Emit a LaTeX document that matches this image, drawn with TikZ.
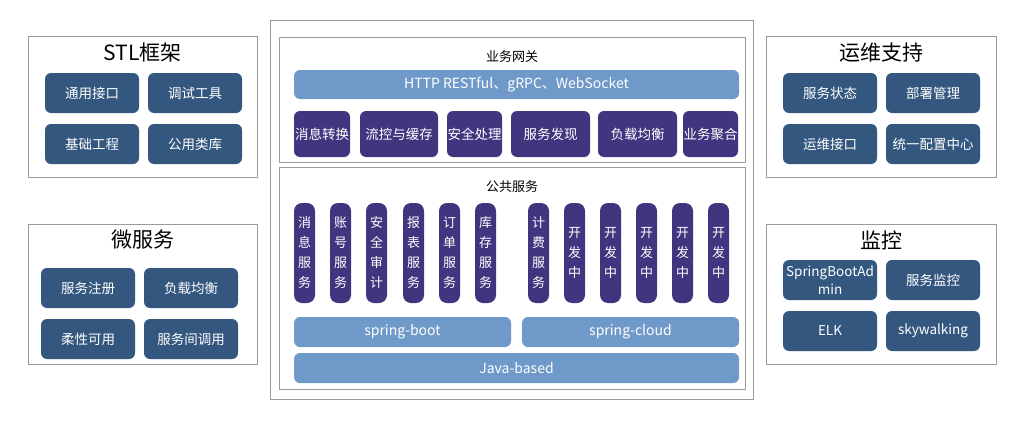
\documentclass[tikz,border=0pt]{standalone}
\usepackage{fontspec}
\setmainfont{Noto Sans CJK SC}
\usepackage{tikz}
\usepackage{xcolor}
\usetikzlibrary{positioning}
\definecolor{frame-gray}{HTML}{9A9A9A}
\definecolor{item-blue}{HTML}{34577F}
\definecolor{svc-purple}{HTML}{40357F}
\definecolor{bar-blue}{HTML}{6F99C9}
\tikzset{
    group-box/.style = {draw=frame-gray, fill=white, line width=1pt, rectangle, inner sep=0pt},
    group-title/.style = {text=black, font=\fontsize{21pt}{24pt}\selectfont},
    layer-title/.style = {text=black, font=\fontsize{13pt}{16pt}\selectfont},
    item-box/.style = {fill=item-blue, text=white, rectangle, rounded corners=6pt, inner sep=0pt, minimum width=94pt, minimum height=40pt, align=center, font=\fontsize{13.5pt}{18pt}\selectfont},
    svc-box/.style = {fill=svc-purple, text=white, rectangle, rounded corners=6pt, inner sep=0pt, minimum height=46pt, font=\fontsize{13.5pt}{16pt}\selectfont},
    svc-pill/.style = {fill=svc-purple, text=white, rectangle, rounded corners=8pt, inner sep=0pt, minimum width=21pt, minimum height=100pt, align=center, font=\fontsize{13pt}{20pt}\selectfont},
    base-bar/.style = {fill=bar-blue, text=white, rectangle, rounded corners=6pt, inner sep=0pt, minimum height=30pt, font=\fontsize{14pt}{16pt}\selectfont},
}
\begin{document}
\begin{tikzpicture}[x=1pt, y=-1pt]
\useasboundingbox[fill=white] (0,0) rectangle (1024,420);

% STL框架
\node[group-box, minimum width=229pt, minimum height=140pt] (stl) at (142.5,107) {};
\node[group-title] (stl-title) at (142.5,53) {STL框架};
\node[item-box] (stl-api) at (92,93) {通用接口};
\node[item-box] (stl-debug) at (195,93) {调试工具};
\node[item-box] (stl-base) at (92,144) {基础工程};
\node[item-box] (stl-lib) at (195,144) {公用类库};

% 微服务
\node[group-box, minimum width=229pt, minimum height=140pt] (micro) at (142.5,294) {};
\node[group-title] (micro-title) at (142.5,240) {微服务};
\node[item-box] (micro-reg) at (88,288) {服务注册};
\node[item-box] (micro-lb) at (191,288) {负载均衡};
\node[item-box] (micro-flex) at (88,339) {柔性可用};
\node[item-box] (micro-call) at (191,339) {服务间调用};

% 运维支持
\node[group-box, minimum width=230pt, minimum height=140pt] (ops) at (881,107) {};
\node[group-title] (ops-title) at (881,53) {运维支持};
\node[item-box] (ops-state) at (830,93) {服务状态};
\node[item-box] (ops-deploy) at (933,93) {部署管理};
\node[item-box] (ops-api) at (830,144) {运维接口};
\node[item-box] (ops-config) at (933,144) {统一配置中心};

% 监控
\node[group-box, minimum width=230pt, minimum height=140pt] (mon) at (881,294) {};
\node[group-title] (mon-title) at (881,240) {监控};
\node[item-box] (mon-sba) at (830,280) {SpringBootAd\\min};
\node[item-box] (mon-svc) at (933,280) {服务监控};
\node[item-box] (mon-elk) at (830,331) {ELK};
\node[item-box] (mon-sky) at (933,331) {skywalking};

% 中间
\node[group-box, minimum width=483pt, minimum height=378pt] (core) at (511.5,210) {};

% 业务网关
\node[group-box, minimum width=466pt, minimum height=124pt] (gw) at (512,100) {};
\node[layer-title] (gw-title) at (512,57) {业务网关};
\node[base-bar, minimum width=445pt, minimum height=29pt] (gw-proto) at (516.5,84.5) {HTTP RESTful、gRPC、WebSocket};
\node[svc-box, minimum width=56pt] (gw-msg) at (322,134) {消息转换};
\node[svc-box, minimum width=78pt] (gw-flow) at (399,134) {流控与缓存};
\node[svc-box, minimum width=55pt] (gw-sec) at (474.5,134) {安全处理};
\node[svc-box, minimum width=79pt] (gw-disc) at (550.5,134) {服务发现};
\node[svc-box, minimum width=79pt] (gw-lb) at (637.5,134) {负载均衡};
\node[svc-box, minimum width=55pt] (gw-agg) at (710.5,134) {业务聚合};

% 公共服务
\node[group-box, minimum width=466pt, minimum height=222pt] (pub) at (512,278) {};
\node[layer-title] (pub-title) at (512,187) {公共服务};
\node[svc-pill] (pub-msg) at (304.5,253) {消\\息\\服\\务};
\node[svc-pill] (pub-acct) at (340.5,253) {账\\号\\服\\务};
\node[svc-pill] (pub-audit) at (376.5,253) {安\\全\\审\\计};
\node[svc-pill] (pub-report) at (413.5,253) {报\\表\\服\\务};
\node[svc-pill] (pub-order) at (449.5,253) {订\\单\\服\\务};
\node[svc-pill] (pub-stock) at (485.5,253) {库\\存\\服\\务};
\node[svc-pill] (pub-bill) at (538.5,253) {计\\费\\服\\务};
\node[svc-pill] (pub-dev1) at (574.5,253) {开\\发\\中};
\node[svc-pill] (pub-dev2) at (610.5,253) {开\\发\\中};
\node[svc-pill] (pub-dev3) at (646.5,253) {开\\发\\中};
\node[svc-pill] (pub-dev4) at (682.5,253) {开\\发\\中};
\node[svc-pill] (pub-dev5) at (718.5,253) {开\\发\\中};
\node[base-bar, minimum width=217pt] (pub-boot) at (402.5,332) {spring-boot};
\node[base-bar, minimum width=217pt] (pub-cloud) at (630.5,332) {spring-cloud};
\node[base-bar, minimum width=445pt] (pub-java) at (516.5,368) {Java-based};
\end{tikzpicture}
\end{document}
